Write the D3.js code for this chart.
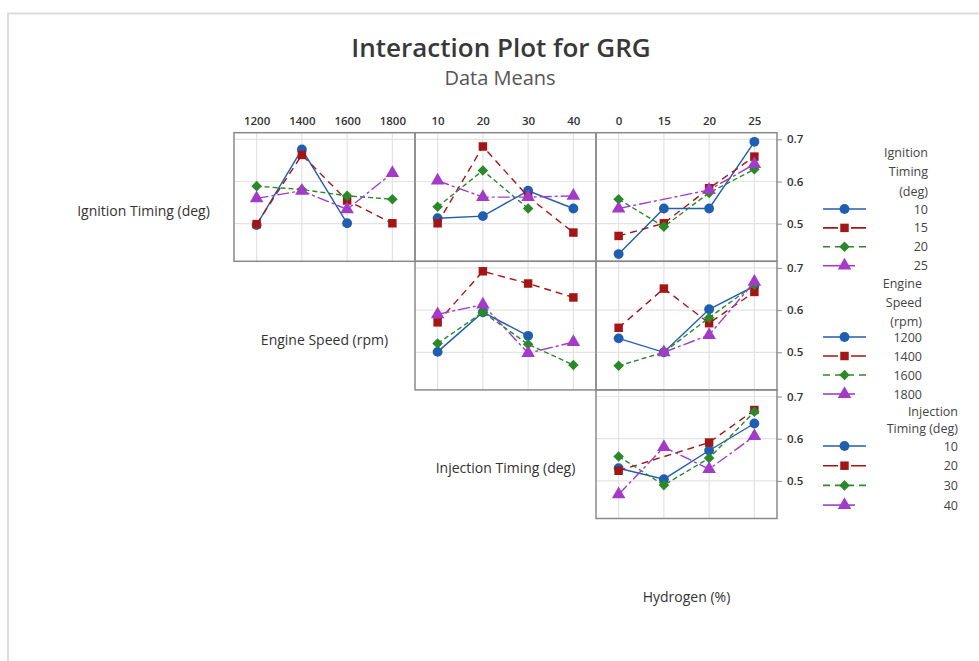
<!DOCTYPE html>
<html>
<head>
<meta charset="utf-8">
<script src="https://cdn.jsdelivr.net/npm/d3@7"></script>
<style>
  body { margin: 0; background: #fff; }
  svg { display: block; font-family: "Open Sans", "Noto Sans", sans-serif; }
</style>
</head>
<body>
<div id="chart"></div>
<script>
// 1. DATA
const ignitionLevels = ["10", "15", "20", "25"]
const speedLevels = ["1200", "1400", "1600", "1800"]
const injectionLevels = ["10", "20", "30", "40"]
const hydrogenLevels = ["0", "15", "20", "25"]

// rows = trace factor, one array per trace level (null = no mean shown)
const ignitionVsSpeed = [
    [0.497, 0.676, 0.501, null],
    [0.499, 0.663, 0.555, 0.501],
    [0.589, 0.581, 0.566, 0.558],
    [0.560, 0.578, 0.534, 0.620]
]
const ignitionVsInjection = [
    [0.513, 0.518, 0.578, 0.536],
    [0.501, 0.683, 0.564, 0.479],
    [0.540, 0.626, 0.536, null],
    [0.602, 0.563, 0.563, 0.566]
]
const ignitionVsHydrogen = [
    [0.428, 0.536, 0.536, 0.694],
    [0.471, 0.501, 0.584, 0.659],
    [0.558, 0.493, 0.573, 0.629],
    [0.536, null, 0.580, 0.641]
]
const speedVsInjection = [
    [0.501, 0.595, 0.539, null],
    [0.571, 0.692, 0.663, 0.630],
    [0.521, 0.595, 0.519, 0.470],
    [0.590, 0.613, 0.498, 0.524]
]
const speedVsHydrogen = [
    [0.533, 0.500, 0.602, 0.657],
    [0.558, 0.651, 0.569, 0.643],
    [0.468, 0.500, 0.582, 0.660],
    [null, 0.500, 0.541, 0.667]
]
const injectionVsHydrogen = [
    [0.530, 0.504, 0.572, 0.636],
    [0.524, null, 0.591, 0.668],
    [0.558, 0.490, 0.554, 0.664],
    [0.468, 0.580, 0.528, 0.606]
]
const yTicks = [0.5, 0.6, 0.7]

const factorNames = ["Ignition Timing (deg)", "Engine Speed (rpm)", "Injection Timing (deg)", "Hydrogen (%)"]
const legendTitles = [["Ignition", "Timing", "(deg)"], ["Engine", "Speed", "(rpm)"], ["Injection", "Timing (deg)"]]

// 2. DIMENSIONS
const dimensions = {
    width: 979,
    height: 661,
    gridLeft: 53,
    gridTop: 132.7,
    cellWidth: 181,
    cellHeight: 128.6,
}

const seriesStyle = [
    { color: "#1f5eb0", dash: null, legendDash: null, symbol: d3.symbolCircle, size: 76, rotate: 0 },
    { color: "#a31616", dash: "7,5", legendDash: "15,13", symbol: d3.symbolSquare, size: 72, rotate: 0 },
    { color: "#2a8a2a", dash: "5,3", legendDash: "7,5", symbol: d3.symbolSquare, size: 56, rotate: 45 },
    { color: "#a23cc8", dash: "12,3,3,3", legendDash: "32,20", symbol: d3.symbolTriangle, size: 80, rotate: 0 },
]

const panels = [
    { row: 0, col: 1, levels: speedLevels, values: ignitionVsSpeed, top: true },
    { row: 0, col: 2, levels: injectionLevels, values: ignitionVsInjection, top: true },
    { row: 0, col: 3, levels: hydrogenLevels, values: ignitionVsHydrogen, top: true, right: true },
    { row: 1, col: 2, levels: injectionLevels, values: speedVsInjection },
    { row: 1, col: 3, levels: hydrogenLevels, values: speedVsHydrogen, right: true },
    { row: 2, col: 3, levels: hydrogenLevels, values: injectionVsHydrogen, right: true },
]

const legends = [
    { row: 0, levels: ignitionLevels, titleY: 152, titleStep: 19.5, itemY: 209, step: 18.9, textX: 928 },
    { row: 1, levels: speedLevels, titleY: 283, titleStep: 19, itemY: 337, step: 19, textX: 922 },
    { row: 2, levels: injectionLevels, titleY: 411, titleStep: 17.5, itemY: 446, step: 19.7, textX: 958 },
]

// 3. DRAW CANVAS
const svg = d3.select("#chart")
    .append("svg")
    .attr("width", dimensions.width)
    .attr("height", dimensions.height)

svg.append("rect")
    .attr("width", dimensions.width)
    .attr("height", dimensions.height)
    .attr("fill", "#fff")

// outer frame
svg.append("path")
    .attr("d", `M8,${dimensions.height} V13.5 H${dimensions.width}`)
    .attr("fill", "none")
    .attr("stroke", "#dcdcdc")
    .attr("stroke-width", 2)

svg.append("text")
    .attr("x", 501)
    .attr("y", 57)
    .attr("text-anchor", "middle")
    .attr("fill", "#383838")
    .style("font-size", "26px")
    .style("font-weight", 600)
    .text("Interaction Plot for GRG")

svg.append("text")
    .attr("x", 500)
    .attr("y", 85)
    .attr("text-anchor", "middle")
    .attr("fill", "#555")
    .style("font-size", "20px")
    .text("Data Means")

// 4. SCALES
const yScale = d3.scaleLinear()
    .domain([0.7 - (dimensions.cellHeight - 6.6) / 422, 0.7 + 6.6 / 422])
    .range([dimensions.cellHeight, 0])

const cellX = col => dimensions.gridLeft + col * dimensions.cellWidth
const cellY = row => dimensions.gridTop + row * dimensions.cellHeight

// 5. DRAW DATA
panels.forEach(p => {
    const xScale = d3.scalePoint()
        .domain(p.levels)
        .range([0, dimensions.cellWidth])
        .padding(0.5)

    const g = svg.append("g")
        .attr("transform", `translate(${cellX(p.col)},${cellY(p.row)})`)

    // gridlines
    g.selectAll(".vgrid")
        .data(p.levels)
        .join("line")
        .attr("x1", d => xScale(d))
        .attr("x2", d => xScale(d))
        .attr("y1", 0)
        .attr("y2", dimensions.cellHeight)
        .attr("stroke", "#e3e3e3")
        .attr("stroke-width", 1.2)
    g.selectAll(".hgrid")
        .data(yTicks)
        .join("line")
        .attr("x1", 0)
        .attr("x2", dimensions.cellWidth)
        .attr("y1", d => yScale(d))
        .attr("y2", d => yScale(d))
        .attr("stroke", "#e3e3e3")
        .attr("stroke-width", 1.2)

    const lineGen = d3.line()
        .x(d => xScale(d.level))
        .y(d => yScale(d.value))

    p.values.forEach((series, i) => {
        const style = seriesStyle[i]
        const pts = series
            .map((v, j) => ({ level: p.levels[j], value: v }))
            .filter(d => d.value !== null)

        g.append("path")
            .datum(pts)
            .attr("d", lineGen)
            .attr("fill", "none")
            .attr("stroke", style.color)
            .attr("stroke-width", 1.4)
            .attr("stroke-dasharray", style.dash)

        g.selectAll(null)
            .data(pts)
            .join("path")
            .attr("d", d3.symbol().type(style.symbol).size(style.size))
            .attr("transform", d => `translate(${xScale(d.level)},${yScale(d.value)}) rotate(${style.rotate})`)
            .attr("fill", style.color)
    })

    // border
    g.append("rect")
        .attr("width", dimensions.cellWidth)
        .attr("height", dimensions.cellHeight)
        .attr("fill", "none")
        .attr("stroke", "#8a8a8a")
        .attr("stroke-width", 1.5)

    // 6. PERIPHERALS
    if (p.top) {
        const xAxis = g.append("g")
            .call(d3.axisTop(xScale).tickSize(0).tickPadding(8))
        xAxis.select(".domain").remove()
        xAxis.selectAll("text")
            .attr("fill", "#333")
            .style("font-size", "11.5px")
            .style("font-weight", 600)
            .style("font-family", "'Open Sans', sans-serif")
    }
    if (p.right) {
        const yAxis = g.append("g")
            .attr("transform", `translate(${dimensions.cellWidth},0)`)
            .call(d3.axisRight(yScale).tickValues(yTicks).tickFormat(d3.format(".1f")).tickSize(5).tickPadding(5))
        yAxis.select(".domain").remove()
        yAxis.selectAll("line").attr("stroke", "#8a8a8a")
        yAxis.selectAll("text")
            .attr("fill", "#333")
            .style("font-size", "11.5px")
            .style("font-weight", 600)
            .style("font-family", "'Open Sans', sans-serif")
    }
})

// factor labels on the diagonal
factorNames.forEach((name, i) => {
    svg.append("text")
        .attr("x", cellX(i) + dimensions.cellWidth / 2)
        .attr("y", cellY(i) + dimensions.cellHeight / 2 + 19)
        .attr("text-anchor", "middle")
        .attr("fill", "#333")
        .style("font-size", "14px")
        .text(name)
})

// legends
legends.forEach(lg => {
    const g = svg.append("g")
    legendTitles[lg.row].forEach((t, k) => {
        g.append("text")
            .attr("x", lg.textX)
            .attr("y", lg.titleY + k * lg.titleStep + 4.5)
            .attr("text-anchor", "end")
            .attr("fill", "#444")
            .style("font-size", "12.5px")
            .text(t)
    })
    lg.levels.forEach((lv, i) => {
        const style = seriesStyle[i]
        const y = lg.itemY + i * lg.step
        g.append("line")
            .attr("x1", 823)
            .attr("x2", 866)
            .attr("y1", y)
            .attr("y2", y)
            .attr("stroke", style.color)
            .attr("stroke-width", 1.6)
            .attr("stroke-dasharray", style.legendDash)
        g.append("path")
            .attr("d", d3.symbol().type(style.symbol).size(style.size))
            .attr("transform", `translate(844.5,${y}) rotate(${style.rotate})`)
            .attr("fill", style.color)
        g.append("text")
            .attr("x", lg.textX)
            .attr("y", y + 4.5)
            .attr("text-anchor", "end")
            .attr("fill", "#444")
            .style("font-size", "12.5px")
            .text(lv)
    })
})
</script>
</body>
</html>
